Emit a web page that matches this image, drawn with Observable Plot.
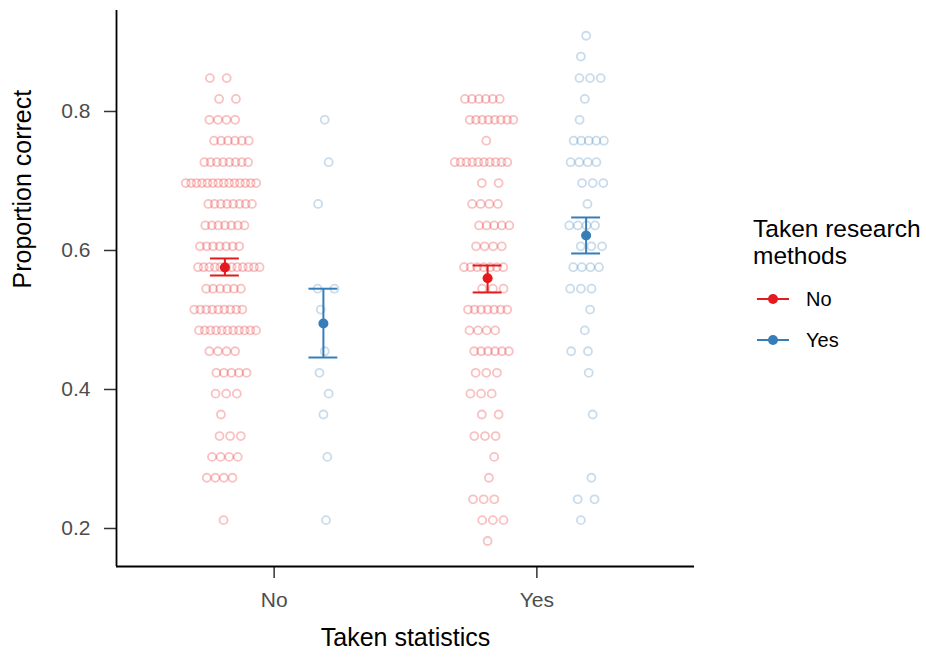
<!DOCTYPE html>
<html><head><meta charset="utf-8">
<script src="https://cdn.jsdelivr.net/npm/d3@7"></script>
<script src="https://cdn.jsdelivr.net/npm/@observablehq/plot@0.6"></script>
<style>
body{margin:0;background:#fff;font-family:"Liberation Sans",Arial,sans-serif;}
#wrap{position:relative;width:926px;height:659px;}
#wrap svg.overlay{position:absolute;left:0;top:0;pointer-events:none;}
</style></head><body><div id="wrap"></div>
<script>
// Categories
const statGroups = ["No", "Yes"];          // Taken statistics
const researchGroups = ["No", "Yes"];      // Taken research methods
const colors = ["#E41A1C", "#377EB8"];

// Possible proportion-correct values (score out of 33)
const levels = [0.182, 0.212, 0.242, 0.273, 0.303, 0.333, 0.364, 0.394, 0.424, 0.455, 0.485, 0.515,
  0.545, 0.576, 0.606, 0.636, 0.667, 0.697, 0.727, 0.758, 0.788, 0.818, 0.848, 0.879, 0.909];

// Number of participants at each level, per group
const countsStatNoResNo   = [0,1,0,4,4,3,1,3,5,4,11,9,6,12,7,7,8,14,8,6,4,2,2,0,0];
const countsStatNoResYes  = [0,1,0,0,1,0,1,1,1,1,0,1,2,0,0,0,1,0,1,0,1,0,0,0,0];
const countsStatYesResNo  = [1,3,3,1,1,3,2,3,3,6,4,7,3,7,4,5,4,2,10,1,8,6,0,0,0];
const countsStatYesResYes = [0,1,2,1,0,0,1,0,1,2,1,1,3,4,3,4,1,3,4,5,1,1,3,1,1];

// Group means and error bars (mean ± SE)
const summaryStat = ["No", "No", "Yes", "Yes"];
const summaryRes  = ["No", "Yes", "No", "Yes"];
const summaryMean = [0.5755, 0.495, 0.560, 0.6216];
const summaryLow  = [0.564, 0.446, 0.5396, 0.5957];
const summaryHigh = [0.5885, 0.545, 0.5784, 0.6475];

const dodge = 0.1875;
const baseX = (stat, res) => statGroups.indexOf(stat) + 1 + (res === "No" ? -dodge : dodge);

const groups = [
  {stat: "No", res: "No", counts: countsStatNoResNo},
  {stat: "No", res: "Yes", counts: countsStatNoResYes},
  {stat: "Yes", res: "No", counts: countsStatYesResNo},
  {stat: "Yes", res: "Yes", counts: countsStatYesResYes}
];
const points = [];
for (const g of groups) {
  const b = baseX(g.stat, g.res);
  g.counts.forEach((n, i) => {
    const span = n > 1 ? Math.min(0.28, 0.03 + 0.017 * n) : 0;
    const shift = (((i * 37 + (g.stat === "Yes" ? 5 : 0) + (g.res === "Yes" ? 3 : 0)) % 11) - 5) * 0.005;
    for (let j = 0; j < n; j++) {
      const off = n > 1 ? -span / 2 + span * j / (n - 1) : 0;
      points.push({x: b + off + shift, y: levels[i], research: g.res});
    }
  });
}
const summary = summaryStat.map((s, i) => ({
  x: baseX(s, summaryRes[i]), research: summaryRes[i],
  mean: summaryMean[i], low: summaryLow[i], high: summaryHigh[i]
}));

const cap = 0.055;
const chart = Plot.plot({
  width: 926, height: 659,
  marginLeft: 116, marginRight: 232, marginTop: 10, marginBottom: 93,
  style: {fontFamily: "'Liberation Sans', Arial, sans-serif", background: "#fff"},
  x: {domain: [0.4, 2.6]},
  y: {domain: [0.1453, 0.9453]},
  color: {domain: researchGroups, range: colors},
  marks: [
    Plot.dot(points, {x: "x", y: "y", stroke: "research", r: 4, strokeWidth: 1.8, strokeOpacity: 0.27}),
    Plot.ruleX(summary, {x: "x", y1: "low", y2: "high", stroke: "research", strokeWidth: 2}),
    Plot.ruleY(summary, {y: "low", x1: d => d.x - cap, x2: d => d.x + cap, stroke: "research", strokeWidth: 2}),
    Plot.ruleY(summary, {y: "high", x1: d => d.x - cap, x2: d => d.x + cap, stroke: "research", strokeWidth: 2}),
    Plot.dot(summary, {x: "x", y: "mean", fill: "research", r: 5}),
    Plot.axisX({ticks: [1, 2], tickFormat: d => statGroups[d - 1], tickSize: 12, tickPadding: 14,
      fontSize: 21, stroke: "#333", fill: "#4D4D4D", strokeWidth: 1.5, label: null}),
    Plot.axisY({ticks: [0.2, 0.4, 0.6, 0.8], tickFormat: d3.format(".1f"), tickSize: 12, tickPadding: 14,
      fontSize: 21, stroke: "#333", fill: "#4D4D4D", strokeWidth: 1.5, label: null}),
    Plot.ruleX([0.4], {stroke: "#000", strokeWidth: 1.8}),
    Plot.ruleY([0.1453], {stroke: "#000", strokeWidth: 1.8}),
    Plot.text(["Taken statistics"], {frameAnchor: "bottom", dy: 79, fontSize: 25, fill: "#000"}),
    Plot.text(["Proportion correct"], {frameAnchor: "left", dx: -94, rotate: -90, fontSize: 25, fill: "#000"})
  ]
});
const wrap = document.getElementById("wrap");
wrap.appendChild(chart);

// Legend overlay
const ns = "http://www.w3.org/2000/svg";
const lg = document.createElementNS(ns, "svg");
lg.setAttribute("class", "overlay");
lg.setAttribute("width", 926);
lg.setAttribute("height", 659);
lg.style.fontFamily = "'Liberation Sans', Arial, sans-serif";
function el(tag, attrs, txt) {
  const e = document.createElementNS(ns, tag);
  for (const k in attrs) e.setAttribute(k, attrs[k]);
  if (txt != null) e.textContent = txt;
  lg.appendChild(e);
  return e;
}
el("text", {x: 753, y: 237, "font-size": 24.5, fill: "#000"}, "Taken research");
el("text", {x: 753, y: 264, "font-size": 24.5, fill: "#000"}, "methods");
researchGroups.forEach((g, i) => {
  const y = 299 + i * 41;
  el("line", {x1: 757, x2: 789, y1: y, y2: y, stroke: colors[i], "stroke-width": 2});
  el("circle", {cx: 773, cy: y, r: 5, fill: colors[i]});
  el("text", {x: 806, y: y, "font-size": 20, fill: "#000", "dominant-baseline": "central"}, g);
});
wrap.appendChild(lg);
</script></body></html>
